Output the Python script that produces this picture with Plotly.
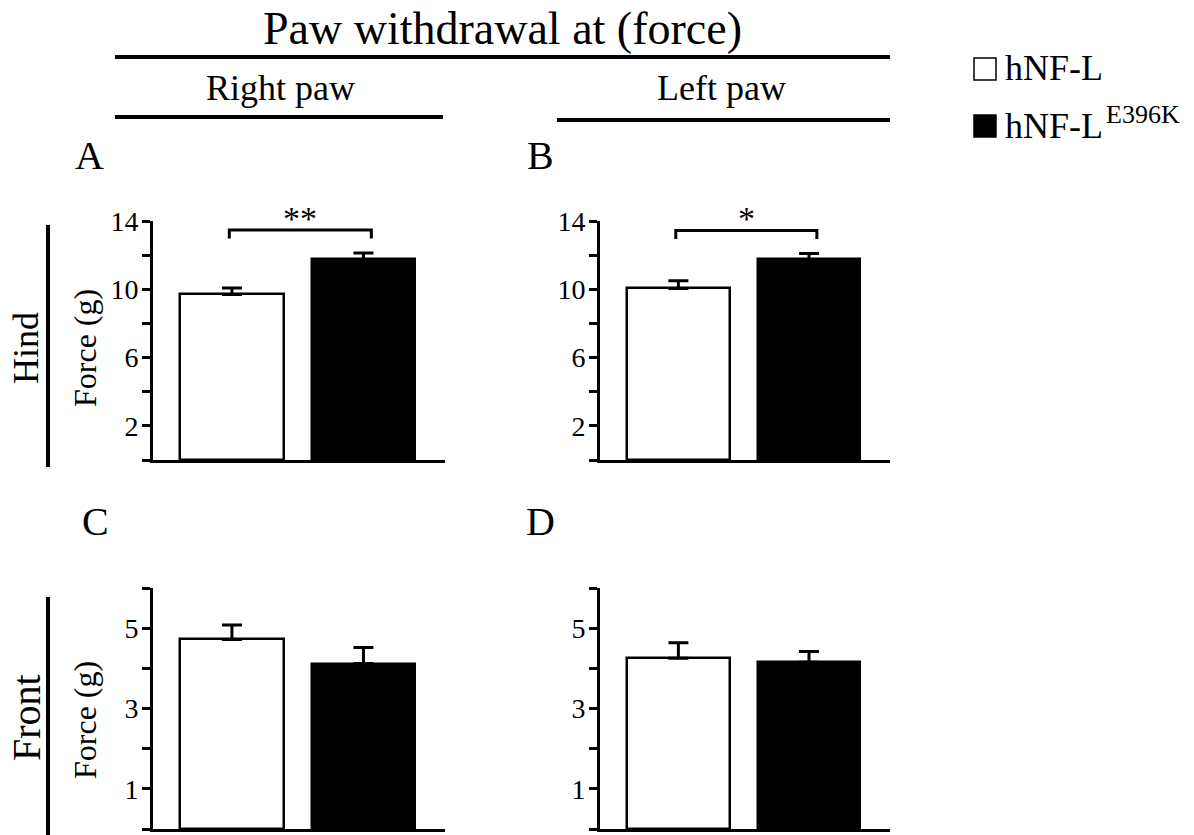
import plotly.graph_objects as go

# ---------------- data ----------------
groups = ["hNF-L", "hNF-L E396K"]
hind_right_mean = [9.7, 11.75]
hind_right_sem = [0.38, 0.37]
hind_left_mean = [10.05, 11.75]
hind_left_sem = [0.45, 0.35]
front_right_mean = [4.72, 4.12]
front_right_sem = [0.36, 0.40]
front_left_mean = [4.25, 4.15]
front_left_sem = [0.39, 0.27]
significance = ["**", "*", "", ""]
panel_letters = ["A", "B", "C", "D"]
hind_ticks = [0, 2, 4, 6, 8, 10, 12, 14]
hind_ticklabels = ["", "2", "", "6", "", "10", "", "14"]
front_ticks = [0, 1, 2, 3, 4, 5, 6]
front_ticklabels = ["", "1", "", "3", "", "5", ""]

# ---------------- layout helpers ----------------
W, H = 1194, 835
FONT = "Liberation Serif, Times New Roman, serif"
BAR_COLORS = ["white", "black"]


def px(x):
    return x / W


def py(y):
    return 1 - y / H


fig = go.Figure()

panels = [
    (hind_right_mean, hind_right_sem, 1, (153, 445), (460, 221), [0, 14], hind_ticks, hind_ticklabels),
    (hind_left_mean, hind_left_sem, 2, (600, 890), (460, 221), [0, 14], hind_ticks, hind_ticklabels),
    (front_right_mean, front_right_sem, 3, (153, 445), (829, 588), [0, 6], front_ticks, front_ticklabels),
    (front_left_mean, front_left_sem, 4, (600, 890), (829, 588), [0, 6], front_ticks, front_ticklabels),
]

shapes = []
annotations = []
layout_axes = {}

for i, (mean, sem, k, xdom, ydom, yr, tv, tt) in enumerate(panels):
    xa = "x" if k == 1 else f"x{k}"
    ya = "y" if k == 1 else f"y{k}"
    fig.add_trace(go.Bar(
        x=list(range(len(groups))), y=mean, width=0.785,
        marker=dict(color=BAR_COLORS, line=dict(color="black", width=2.5)),
        error_y=dict(type="data", array=sem, arrayminus=[0] * len(sem), symmetric=False,
                     color="black", thickness=3, width=10),
        xaxis=xa, yaxis=ya, showlegend=False, name="", hovertext=groups,
    ))
    xkey = "xaxis" if k == 1 else f"xaxis{k}"
    ykey = "yaxis" if k == 1 else f"yaxis{k}"
    layout_axes[xkey] = dict(
        domain=[px(xdom[0]), px(xdom[1])], range=[-0.6, 1.62], anchor=ya,
        showline=True, linewidth=3, linecolor="black", ticks="", showticklabels=False,
        showgrid=False, zeroline=False, fixedrange=True, automargin=False,
    )
    layout_axes[ykey] = dict(
        domain=[py(ydom[0]), py(ydom[1])], range=yr, anchor=xa,
        tickmode="array", tickvals=tv, ticktext=tt,
        showline=True, linewidth=3, linecolor="black",
        ticks="outside", ticklen=8, tickwidth=3, tickcolor="black",
        ticklabelstandoff=-2,
        tickfont=dict(family=FONT, size=28, color="black"),
        showgrid=False, zeroline=False, fixedrange=True, automargin=False,
    )
    # significance bracket
    if significance[i]:
        top = max(m + s for m, s in zip(mean, sem)) + 1.35
        shapes.append(dict(
            type="path", xref=xa, yref=ya,
            path=f"M -0.02,{top - 0.5} L -0.02,{top} L 1.06,{top} L 1.06,{top - 0.5}",
            line=dict(color="black", width=3),
        ))
        annotations.append(dict(
            text=significance[i], x=0.52, y=top, xref=xa, yref=ya,
            xanchor="center", yanchor="bottom", showarrow=False, yshift=-9,
            font=dict(family=FONT, size=34, color="black"),
        ))


def ann(text, x, y, size, xanchor="center", yanchor="middle", angle=0):
    annotations.append(dict(
        text=text, x=px(x), y=py(y), xref="paper", yref="paper",
        xanchor=xanchor, yanchor=yanchor, showarrow=False, textangle=angle,
        font=dict(family=FONT, size=size, color="black"),
    ))


def hline(x0, x1, y, w=4):
    shapes.append(dict(type="line", xref="paper", yref="paper",
                       x0=px(x0), x1=px(x1), y0=py(y), y1=py(y),
                       line=dict(color="black", width=w)))


def vline(x, y0, y1, w=4):
    shapes.append(dict(type="line", xref="paper", yref="paper",
                       x0=px(x), x1=px(x), y0=py(y0), y1=py(y1),
                       line=dict(color="black", width=w)))


# headers
ann("Paw withdrawal at (force)", 503, 28, 46)
hline(115, 890, 57)
ann("Right paw", 280, 88, 36)
hline(115, 443, 117)
ann("Left paw", 721, 88, 36)
hline(557, 890, 120)

# row labels
ann("Hind", 26, 348, 36, angle=-90)
vline(48, 225, 467)
ann("Front", 26, 718, 40, angle=-90)
vline(48, 597, 835)

# y-axis titles
ann("Force (g)", 85, 348, 32, angle=-90)
ann("Force (g)", 85, 720, 32, angle=-90)

# panel letters
for letter, (lx, ly) in zip(panel_letters, [(90, 155), (540, 155), (95, 521), (540, 521)]):
    ann(letter, lx, ly, 40)

# legend
shapes.append(dict(type="rect", xref="paper", yref="paper",
                   x0=px(974), x1=px(996), y0=py(80), y1=py(58),
                   fillcolor="white", line=dict(color="black", width=1.5)))
shapes.append(dict(type="rect", xref="paper", yref="paper",
                   x0=px(974), x1=px(996), y0=py(137), y1=py(115),
                   fillcolor="black", line=dict(color="black", width=1.5)))
ann(groups[0], 1003, 68, 36, xanchor="left")
ann("hNF-L", 1003, 126, 36, xanchor="left")
ann("E396K", 1104, 114, 26, xanchor="left")

fig.update_layout(
    width=W, height=H, margin=dict(l=0, r=0, t=0, b=0, autoexpand=False),
    paper_bgcolor="white", plot_bgcolor="white",
    shapes=shapes, annotations=annotations, bargap=0,
    font=dict(family=FONT, color="black"),
    **layout_axes,
)

fig.write_html("out.html")
